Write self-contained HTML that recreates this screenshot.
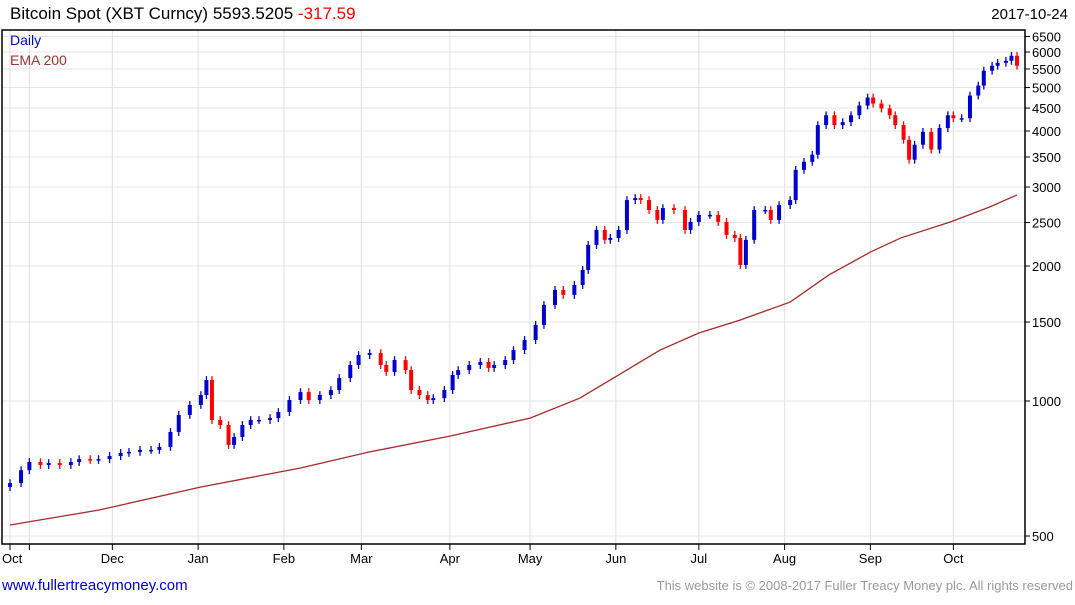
<!DOCTYPE html>
<html><head><meta charset="utf-8"><style>
body{margin:0;background:#fff;font-family:"Liberation Sans",sans-serif}
</style></head><body>
<svg id="chart" width="1075" height="600" xmlns="http://www.w3.org/2000/svg" font-family="Liberation Sans, sans-serif">
<text x="10" y="19" font-size="17">Bitcoin Spot (XBT Curncy) 5593.5205 <tspan fill="#ff0000">-317.59</tspan></text>
<text x="1068" y="19" font-size="15" text-anchor="end">2017-10-24</text>
<g id="grid"></g>
<g id="ema"></g>
<g id="candles"></g>
<rect x="2" y="30" width="1023" height="514" fill="none" stroke="#000" stroke-width="1.5"/>
<text x="10" y="45" font-size="14" fill="#0000cc">Daily</text>
<text x="10" y="65" font-size="14" fill="#993333">EMA 200</text>
<g id="axes"></g>
<text x="2" y="590" font-size="15" fill="#0000cc">www.fullertreacymoney.com</text>
<text x="1073" y="590" font-size="13" fill="#999" text-anchor="end">This website is © 2008-2017 Fuller Treacy Money plc. All rights reserved</text>
</svg>
<script>
const days=[0,4,7,11,14,18,22,25,29,32,36,40,43,47,51,54,58,61,65,69,71,73,76,79,81,84,87,90,94,97,101,105,108,112,116,119,123,126,130,134,136,139,143,145,148,151,153,157,160,162,166,170,173,175,179,182,186,190,193,197,200,204,207,209,212,215,217,220,223,226,228,231,234,236,240,244,246,249,253,256,259,262,264,266,269,273,275,278,282,284,287,290,292,295,298,301,304,307,310,312,315,318,320,323,325,327,330,333,336,339,341,344,347,350,352,355,357,360,362,364];
const closes=[656,701,731,720,727,720,731,742,739,742,754,766,770,778,778,790,853,931,980,1031,1114,907,884,798,831,884,907,907,916,945,1005,1047,1005,1031,1058,1125,1203,1266,1279,1203,1161,1234,1172,1058,1031,1005,1015,1058,1143,1172,1203,1222,1185,1203,1234,1299,1368,1478,1637,1769,1724,1814,1960,2228,2407,2287,2310,2407,2806,2835,2806,2666,2534,2693,2666,2407,2508,2600,2600,2508,2346,2310,2011,2287,2666,2666,2534,2734,2806,3277,3415,3541,4123,4337,4123,4186,4337,4559,4750,4605,4490,4337,4123,3824,3452,3728,3983,3636,4061,4337,4272,4272,4799,5050,5452,5592,5678,5736,5885,5592];
const emaDays=[0,32,69,105,130,159,188,206,220,235,249,264,282,296,311,322,340,354,364];
const emaVals=[529,571,643,709,770,835,916,1015,1143,1299,1418,1516,1662,1910,2148,2310,2508,2706,2881];
const yTicks=[500,1000,1500,2000,2500,3000,3500,4000,4500,5000,5500,6000,6500];
const months=["Oct","Nov","Dec","Jan","Feb","Mar","Apr","May","Jun","Jul","Aug","Sep","Oct"];
const monthDays=[0,7,37,68,99,127,159,188,219,249,280,311,341];
const monthLabeled=[true,false,true,true,true,true,true,true,true,true,true,true,true];
const NS="http://www.w3.org/2000/svg";
function X(d){return 10+d*(1017-10)/364;}
function Y(v){return 401-135*Math.log2(v/1000);}
function mk(t,a,p){const e=document.createElementNS(NS,t);for(const k in a)e.setAttribute(k,a[k]);p.appendChild(e);return e;}
const grid=document.getElementById('grid'),axes=document.getElementById('axes');
yTicks.forEach(v=>{const y=Y(v);
 const g=mk('line',{x1:2,x2:1025,y1:y,y2:y,stroke:'#e6e6e6'},grid);
 
 
 const tk=mk('line',{x1:1025,x2:1030,y1:y,y2:y,stroke:'#000'},axes);
 
 
 const t=mk('text',{x:1032,y:y+5,'font-size':13},axes);t.textContent=v;
 
 
});
monthDays.forEach((d,i)=>{const x=X(d);
 const g=mk('line',{x1:x,x2:x,y1:30,y2:544,stroke:'#e0e0e0'},grid);
 
 
 const tk=mk('line',{x1:x,x2:x,y1:544,y2:550,stroke:'#000'},axes);
 
 
 if(monthLabeled[i]){const t=mk('text',{x:i==0?2:x,y:563,'font-size':13,'text-anchor':i==0?'start':'middle'},axes);t.textContent=months[i];
 
 }
});
const ema=mk('polyline',{points:emaDays.map((d,i)=>X(d)+','+Y(emaVals[i])).join(' '),fill:'none',stroke:'#a52a2a','stroke-width':1.3},document.getElementById('ema'));


const cg=document.getElementById('candles');
closes.forEach((c,i)=>{const o=i?closes[i-1]:c*0.98;const up=c>=o;const col=up?'#0000cc':'#ff0000';
 const x=X(days[i]);const hi=Math.max(o,c)*1.02,lo=Math.min(o,c)*0.98;
 const w=mk('line',{x1:x,x2:x,y1:Y(hi),y2:Y(lo),stroke:col,'stroke-width':1.3},cg);
 
 
 const yt=Y(Math.max(o,c)),yb=Y(Math.min(o,c));
 const b=mk('rect',{x:x-2,y:yt,width:4,height:Math.max(1.5,yb-yt),fill:col},cg);
 
 
});
</script>
</body></html>
